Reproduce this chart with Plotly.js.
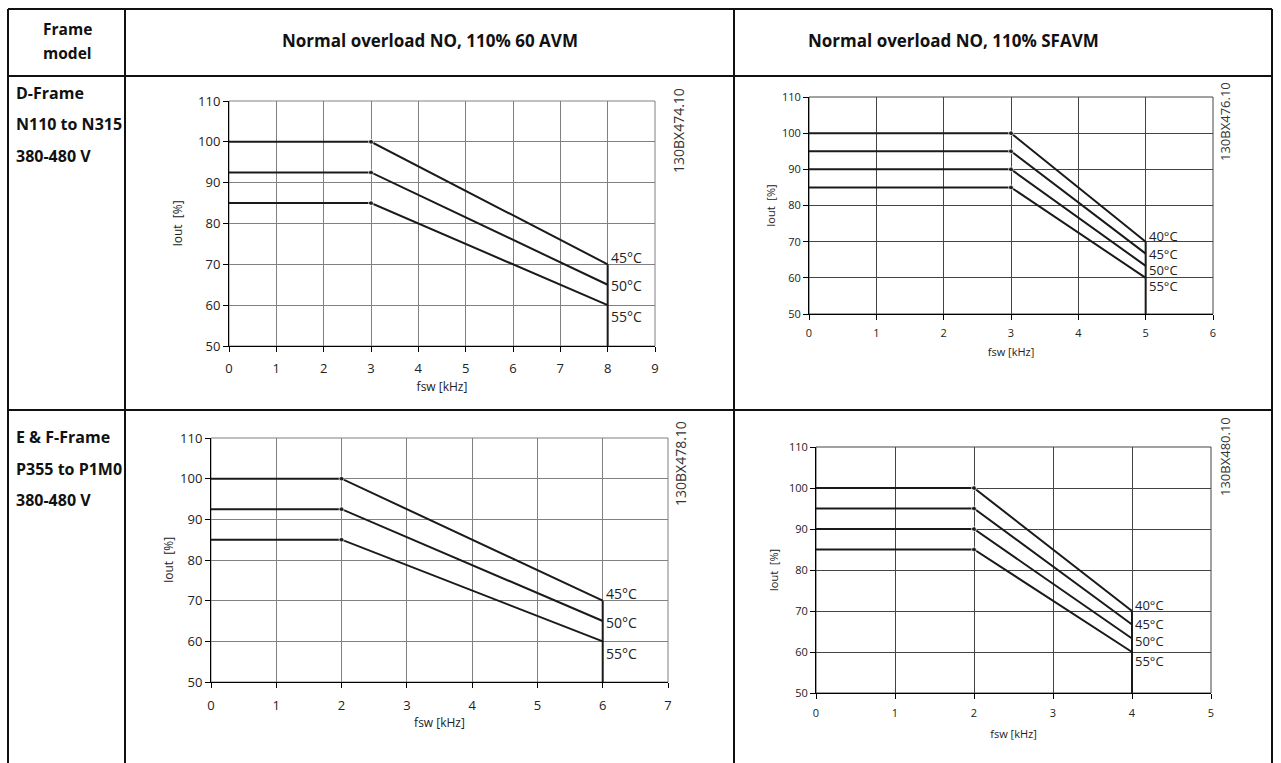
<!DOCTYPE html>
<html>
<head>
<meta charset="utf-8">
<script src="https://cdn.plot.ly/plotly-3.0.1.min.js"></script>
<style>html,body{margin:0;padding:0;background:#fff;}#chart{width:1281px;height:763px;}</style>
</head>
<body>
<div id="chart"></div>
<script>
// ---------------- data ----------------
const yMin = 50;
const tempsA = ['45°C', '50°C', '55°C'];
const tempsB = ['40°C', '45°C', '50°C', '55°C'];

// D-Frame, 60 AVM
const dAvmX = [0, 3, 8];
const dAvm45 = [100, 100, 70];
const dAvm50 = [92.5, 92.5, 65];
const dAvm55 = [85, 85, 60];

// D-Frame, SFAVM
const dSfX = [0, 3, 5];
const dSf40 = [100, 100, 70];
const dSf45 = [95, 95, 66.7];
const dSf50 = [90, 90, 63.3];
const dSf55 = [85, 85, 60];

// E & F-Frame, 60 AVM
const efAvmX = [0, 2, 6];
const efAvm45 = [100, 100, 70];
const efAvm50 = [92.5, 92.5, 65];
const efAvm55 = [85, 85, 60];

// E & F-Frame, SFAVM
const efSfX = [0, 2, 4];
const efSf40 = [100, 100, 70];
const efSf45 = [95, 95, 66.7];
const efSf50 = [90, 90, 63.3];
const efSf55 = [85, 85, 60];

const codes = ['130BX474.10', '130BX476.10', '130BX478.10', '130BX480.10'];
const headerFrame = ['Frame', 'model'];
const headers = ['Normal overload NO, 110% 60 AVM', 'Normal overload NO, 110% SFAVM'];
const rowLabels = [['D-Frame', 'N110 to N315', '380-480 V'], ['E & F-Frame', 'P355 to P1M0', '380-480 V']];
const xTitle = 'fsw [kHz]';
const yTitle = 'Iout\u00a0 [%]';

// ---------------- layout helpers ----------------
const W = 1281, H = 763;
const px = v => v / W;
const py = v => 1 - v / H;
const FONT = 'Open Sans, sans-serif';
const LINE = '#1a1a1a';

const panels = [
  {x: dAvmX, series: [dAvm45, dAvm50, dAvm55], temps: tempsA, xr: [0, 9], dom: [229, 655, 101, 346], grid: '#808080', tf: 13, ttf: 12, lf: 14, shifts: [7, -1, -11], code: codes[0], codePos: [678, 131], codeF: 14, xso: 5, xts: 7, yts: 12},
  {x: dSfX, series: [dSf40, dSf45, dSf50, dSf55], temps: tempsB, xr: [0, 6], dom: [809, 1213, 97, 314], grid: '#444', tf: 11, ttf: 11, lf: 13, shifts: [6, 0, -4, -8], code: codes[1], codePos: [1225, 122], codeF: 13, xso: 4, xts: 9, yts: 4},
  {x: efAvmX, series: [efAvm45, efAvm50, efAvm55], temps: tempsA, xr: [0, 7], dom: [211, 668, 438, 682], grid: '#808080', tf: 13, ttf: 12, lf: 14, shifts: [7, -1, -12], code: codes[2], codePos: [680, 464], codeF: 14, xso: 6, xts: 6, yts: 3},
  {x: efSfX, series: [efSf40, efSf45, efSf50, efSf55], temps: tempsB, xr: [0, 5], dom: [816, 1211, 447, 693], grid: '#444', tf: 11, ttf: 11, lf: 13, shifts: [6, 1, -3, -9], code: codes[3], codePos: [1225, 457], codeF: 13, xso: 5, xts: 11, yts: 8}
];

const traces = [];
const layout = {
  width: W, height: H,
  margin: {l: 0, r: 0, t: 0, b: 0},
  paper_bgcolor: '#fff', plot_bgcolor: '#fff',
  showlegend: false,
  font: {family: FONT, color: '#222'},
  shapes: [], annotations: []
};

panels.forEach((p, i) => {
  const n = i + 1;
  const xa = n === 1 ? 'x' : 'x' + n;
  const ya = n === 1 ? 'y' : 'y' + n;
  const xk = n === 1 ? 'xaxis' : 'xaxis' + n;
  const yk = n === 1 ? 'yaxis' : 'yaxis' + n;
  const last = p.x.length - 1;

  p.series.forEach((s, k) => {
    traces.push({
      type: 'scatter', mode: 'lines+markers', x: p.x, y: s,
      xaxis: xa, yaxis: ya, hoverinfo: 'skip',
      line: {color: LINE, width: 2},
      marker: {color: LINE, size: p.x.map((v, j) => (j === 1 ? 5 : 0))}
    });
    layout.annotations.push({
      xref: xa, yref: ya, x: p.x[last], y: s[last], text: p.temps[k],
      showarrow: false, xanchor: 'left', yanchor: 'middle', xshift: 1, yshift: p.shifts[k],
      font: {family: FONT, size: p.lf, color: '#222'}
    });
  });
  // vertical cut-off line at the max switching frequency
  traces.push({
    type: 'scatter', mode: 'lines', x: [p.x[last], p.x[last]], y: [p.series[0][last], yMin],
    xaxis: xa, yaxis: ya, hoverinfo: 'skip', line: {color: LINE, width: 2}
  });

  layout[xk] = {
    domain: [px(p.dom[0]), px(p.dom[1])], anchor: ya, range: p.xr, dtick: 1, tick0: 0,
    showline: true, linecolor: '#000', linewidth: 1, ticks: 'outside', ticklen: 5, tickcolor: '#000',
    ticklabelstandoff: p.xso,
    showgrid: true, gridcolor: p.grid, gridwidth: 1, zeroline: false, fixedrange: true,
    tickfont: {family: FONT, size: p.tf, color: '#222'},
    title: {text: xTitle, font: {family: FONT, size: p.ttf, color: '#222'}, standoff: p.xts}
  };
  layout[yk] = {
    domain: [py(p.dom[3]), py(p.dom[2])], anchor: xa, range: [yMin, 110], dtick: 10, tick0: 0,
    showline: true, linecolor: '#000', linewidth: 1, ticks: 'outside', ticklen: 5, tickcolor: '#000',
    showgrid: true, gridcolor: p.grid, gridwidth: 1, zeroline: false, fixedrange: true,
    tickfont: {family: FONT, size: p.tf, color: '#222'},
    title: {text: yTitle, font: {family: FONT, size: p.ttf, color: '#222'}, standoff: p.yts}
  };
  // plot frame (top / right edges)
  layout.shapes.push({
    type: 'rect', xref: xa + ' domain', yref: ya + ' domain', x0: 0, x1: 1, y0: 0, y1: 1,
    line: {color: p.grid, width: 1}, layer: 'below'
  });
  // drawing code
  layout.annotations.push({
    xref: 'paper', yref: 'paper', x: px(p.codePos[0]), y: py(p.codePos[1]), text: p.code,
    textangle: -90, showarrow: false, xanchor: 'center', yanchor: 'middle',
    font: {family: FONT, size: p.codeF, color: '#333'}
  });
});

// ---------------- table grid ----------------
const tX = [8, 125, 734, 1272];
const tY = [9, 76, 410];
const tableLine = {color: '#111', width: 2};
tY.forEach(y => layout.shapes.push({type: 'line', xref: 'paper', yref: 'paper', x0: px(tX[0]), x1: px(tX[3]), y0: py(y), y1: py(y), line: tableLine}));
tX.forEach(x => layout.shapes.push({type: 'line', xref: 'paper', yref: 'paper', x0: px(x), x1: px(x), y0: py(tY[0]), y1: 0, line: tableLine}));

const HFONT = {family: FONT, size: 17, color: '#111'};
const FFONT = {family: FONT, size: 15.5, color: '#111'};
const RFONT = {family: FONT, size: 16, color: '#111'};
headerFrame.forEach((t, k) => {
  layout.annotations.push({xref: 'paper', yref: 'paper', x: px(67), y: py(29 + k * 24), text: '<b>' + t + '</b>', showarrow: false, xanchor: 'center', yanchor: 'middle', font: FFONT});
});
layout.annotations.push({xref: 'paper', yref: 'paper', x: px(430), y: py(41), text: '<b>' + headers[0] + '</b>', showarrow: false, xanchor: 'center', yanchor: 'middle', font: HFONT});
layout.annotations.push({xref: 'paper', yref: 'paper', x: px(953), y: py(41), text: '<b>' + headers[1] + '</b>', showarrow: false, xanchor: 'center', yanchor: 'middle', font: HFONT});
const rowTop = [93, 437];
rowLabels.forEach((lines, r) => {
  lines.forEach((t, k) => {
    layout.annotations.push({xref: 'paper', yref: 'paper', x: px(14), y: py(rowTop[r] + k * 31.5), text: '<b>' + t + '</b>', showarrow: false, xanchor: 'left', yanchor: 'middle', font: RFONT});
  });
});

Plotly.newPlot('chart', traces, layout, {staticPlot: true, displayModeBar: false});
</script>
</body>
</html>
